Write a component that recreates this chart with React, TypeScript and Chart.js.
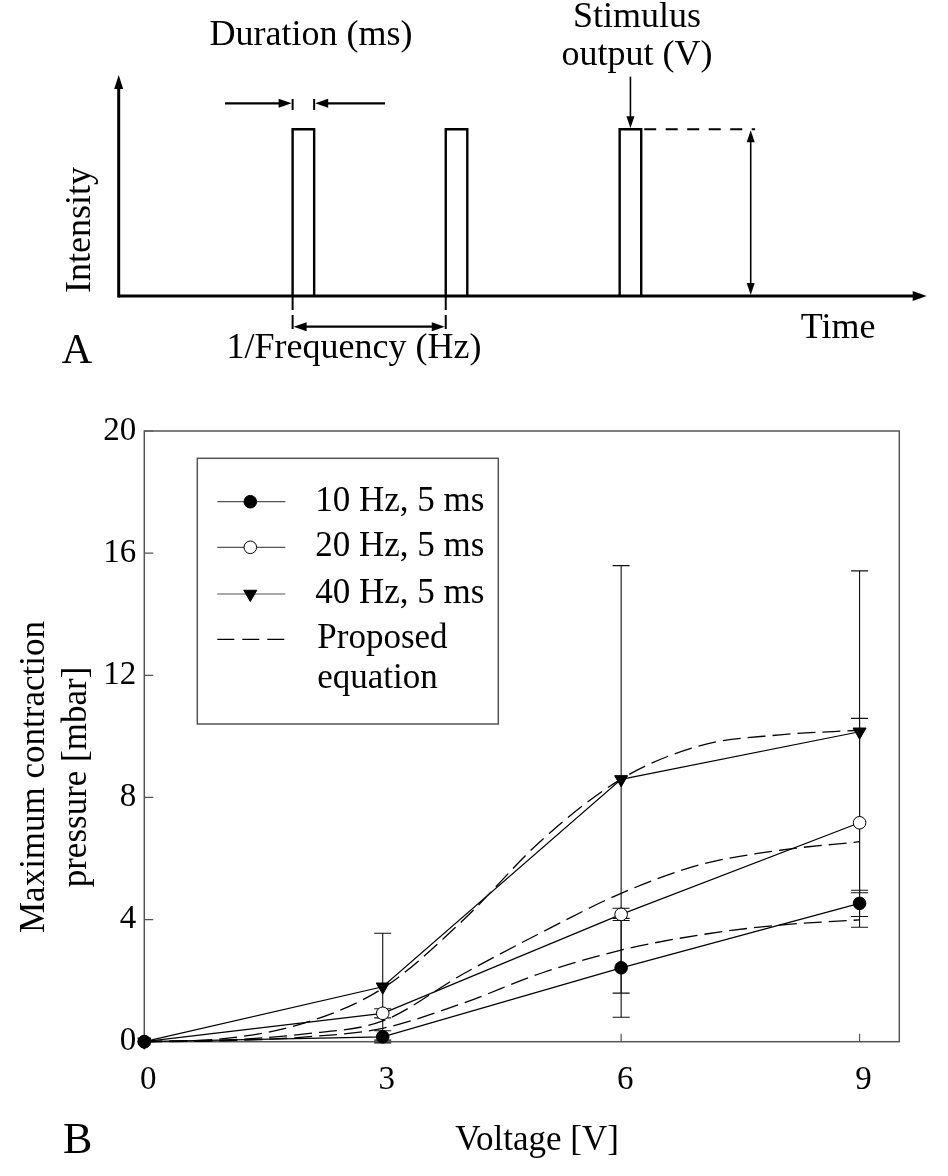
import React, { useEffect, useRef } from "react";
import { Chart, registerables } from "chart.js";

Chart.register(...registerables);

const FONT = "'Liberation Serif', 'Times New Roman', Times, serif";

// ---------- Panel A (stimulus schematic) ----------
const pulseStarts = [2.26, 4.25, 6.51];
const pulseWidth = 0.28;
const pulseIntensity = 1;
const timeAxisEnd = 10.5;
const intensityAxisEnd = 1.326;

// ---------- Panel B (pressure vs voltage) ----------
const voltages = [0, 3, 6, 9];
const pressure10Hz = [0, 0.16, 2.42, 4.53];
const pressure20Hz = [0, 0.93, 4.17, 7.17];
const pressure40Hz = [0, 1.8, 8.59, 10.15];
const error10Hz = [0, 0.2, 1.62, 0.43];
const error20Hz = [0, 0.15, 0.2, 3.42];
const error40Hz = [0, 1.75, 7.0, 5.27];

const fitVoltages = [0, 1, 2, 3, 4, 5, 6, 7, 8, 9];
const fit10Hz = [0, 0.03, 0.15, 0.44, 1.25, 2.25, 3.0, 3.5, 3.82, 3.99];
const fit20Hz = [0, 0.05, 0.25, 0.68, 2.2, 3.58, 4.86, 5.8, 6.27, 6.55];
const fit40Hz = [0, 0.1, 0.6, 1.75, 3.95, 6.6, 8.6, 9.7, 10.05, 10.2];

const xTickValues = [0, 3, 6, 9];
const yTickValues = [0, 4, 8, 12, 16, 20];
const seriesLabels = ["10 Hz, 5 ms", "20 Hz, 5 ms", "40 Hz, 5 ms"];
const fitLabelLines = ["Proposed", "equation"];
const xTitle = "Voltage [V]";
const yTitleLines = ["Maximum contraction", "pressure [mbar]"];

function arrowHead(ctx: CanvasRenderingContext2D, x: number, y: number, angle: number, len = 13, half = 4.5) {
  ctx.save();
  ctx.translate(x, y);
  ctx.rotate(angle);
  ctx.beginPath();
  ctx.moveTo(0, 0);
  ctx.lineTo(-len, -half);
  ctx.lineTo(-len, half);
  ctx.closePath();
  ctx.fill();
  ctx.restore();
}

function seg(ctx: CanvasRenderingContext2D, x1: number, y1: number, x2: number, y2: number, w: number, dash: number[] = []) {
  ctx.save();
  ctx.lineWidth = w;
  ctx.setLineDash(dash);
  ctx.beginPath();
  ctx.moveTo(x1, y1);
  ctx.lineTo(x2, y2);
  ctx.stroke();
  ctx.restore();
}

const panelAPlugin = {
  id: "panelA",
  afterDraw(chart: any) {
    const ctx: CanvasRenderingContext2D = chart.ctx;
    const X = (t: number) => chart.scales.x.getPixelForValue(t);
    const Y = (v: number) => chart.scales.y.getPixelForValue(v);
    ctx.save();
    ctx.strokeStyle = "#000";
    ctx.fillStyle = "#000";
    // axes with arrows
    seg(ctx, X(0), Y(0), X(timeAxisEnd) - 10, Y(0), 3.2);
    arrowHead(ctx, X(timeAxisEnd), Y(0), 0, 14, 5);
    seg(ctx, X(0), Y(0) + 1.5, X(0), Y(intensityAxisEnd) + 10, 3);
    arrowHead(ctx, X(0), Y(intensityAxisEnd), -Math.PI / 2, 14, 4.5);

    const s0 = pulseStarts[0];
    const s1 = pulseStarts[1];
    const s2 = pulseStarts[2];
    // duration arrows
    const yd = Y(1.156);
    seg(ctx, X(1.381), yd, X(s0) - 8, yd, 2.2);
    arrowHead(ctx, X(s0) - 1, yd, 0, 13, 4.5);
    seg(ctx, X(3.461), yd, X(s0 + pulseWidth) + 8, yd, 2.2);
    arrowHead(ctx, X(s0 + pulseWidth) + 1, yd, Math.PI, 13, 4.5);
    seg(ctx, X(s0), Y(1.182), X(s0), Y(1.116), 2);
    seg(ctx, X(s0 + pulseWidth), Y(1.182), X(s0 + pulseWidth), Y(1.116), 2);

    // period
    seg(ctx, X(s0), Y(0), X(s0), Y(-0.216), 2, [14, 5]);
    seg(ctx, X(s1), Y(0), X(s1), Y(-0.216), 2, [14, 5]);
    const yf = Y(-0.184);
    seg(ctx, X(s0) + 8, yf, X(s1) - 8, yf, 2.2);
    arrowHead(ctx, X(s0) + 1, yf, Math.PI, 13, 4.5);
    arrowHead(ctx, X(s1) - 1, yf, 0, 13, 4.5);

    // stimulus output
    const xc = X(s2 + pulseWidth / 2);
    seg(ctx, xc, Y(1.316), xc, Y(1) - 10, 1.6);
    arrowHead(ctx, xc, Y(1) - 1, Math.PI / 2, 12, 4);
    seg(ctx, X(s2 + pulseWidth) + 3, Y(1), X(8.27), Y(1), 2, [12, 9.5]);
    const xv = X(8.213);
    seg(ctx, xv, Y(1) + 9, xv, Y(0) - 9, 1.6);
    arrowHead(ctx, xv, Y(1) + 1, -Math.PI / 2, 12, 4);
    arrowHead(ctx, xv, Y(0) - 1, Math.PI / 2, 12, 4);

    // texts
    ctx.font = `36px ${FONT}`;
    ctx.textBaseline = "alphabetic";
    ctx.textAlign = "center";
    ctx.fillText("Duration (ms)", X(2.5), Y(1.506));
    ctx.fillText("Stimulus", X(6.736), Y(1.615));
    ctx.fillText("output (V)", X(6.736), Y(1.386));
    ctx.fillText("1/Frequency (Hz)", X(3.058), Y(-0.372));
    ctx.fillText("Time", X(9.348), Y(-0.252));
    ctx.save();
    ctx.translate(X(-0.372), Y(0.396));
    ctx.rotate(-Math.PI / 2);
    ctx.fillText("Intensity", 0, 0);
    ctx.restore();
    ctx.textAlign = "left";
    ctx.font = `42px ${FONT}`;
    ctx.fillText("A", X(-0.741), Y(-0.402));
    ctx.restore();
  },
};

const errorBarPlugin = {
  id: "errorBars",
  beforeDatasetsDraw(chart: any) {
    const ctx: CanvasRenderingContext2D = chart.ctx;
    const xs = chart.scales.x;
    const ys = chart.scales.y;
    ctx.save();
    ctx.strokeStyle = "#111";
    ctx.lineWidth = 1.1;
    chart.data.datasets.forEach((ds: any) => {
      if (!ds.errors) return;
      ds.data.forEach((p: any, i: number) => {
        const e = ds.errors[i];
        if (!e) return;
        const x = xs.getPixelForValue(p.x);
        const yt = ys.getPixelForValue(p.y + e);
        const yb = ys.getPixelForValue(p.y - e);
        ctx.beginPath();
        ctx.moveTo(x, yt);
        ctx.lineTo(x, yb);
        ctx.moveTo(x - 8.5, yt);
        ctx.lineTo(x + 8.5, yt);
        ctx.moveTo(x - 8.5, yb);
        ctx.lineTo(x + 8.5, yb);
        ctx.stroke();
      });
    });
    ctx.restore();
  },
};

const framePlugin = {
  id: "frame",
  beforeDatasetsDraw(chart: any) {
    const ctx: CanvasRenderingContext2D = chart.ctx;
    const { left, right, top, bottom } = chart.chartArea;
    const xs = chart.scales.x;
    const ys = chart.scales.y;
    ctx.save();
    ctx.strokeStyle = "#555";
    ctx.lineWidth = 1.5;
    ctx.strokeRect(left, top, right - left, bottom - top);
    ctx.lineWidth = 1.2;
    ctx.beginPath();
    yTickValues.forEach((v) => {
      const y = ys.getPixelForValue(v);
      ctx.moveTo(left, y);
      ctx.lineTo(left + 9, y);
    });
    xTickValues.forEach((v) => {
      const x = xs.getPixelForValue(v);
      ctx.moveTo(x, bottom);
      ctx.lineTo(x, bottom - 8);
    });
    ctx.stroke();
    ctx.restore();
  },
};

function drawMarker(ctx: CanvasRenderingContext2D, style: string, x: number, y: number, r: number, fill: string) {
  ctx.save();
  ctx.fillStyle = fill;
  ctx.strokeStyle = "#000";
  ctx.lineWidth = 1;
  ctx.beginPath();
  if (style === "triangle") {
    const h = 1.5 * r;
    const half = (Math.sqrt(3) * r) / 2;
    ctx.moveTo(x, y + r);
    ctx.lineTo(x - half, y + r - h);
    ctx.lineTo(x + half, y + r - h);
    ctx.closePath();
  } else {
    ctx.arc(x, y, r, 0, Math.PI * 2);
  }
  ctx.fill();
  ctx.stroke();
  ctx.restore();
}

const annotationPlugin = {
  id: "annotB",
  afterDraw(chart: any) {
    const ctx: CanvasRenderingContext2D = chart.ctx;
    const { left, top, bottom } = chart.chartArea;
    ctx.save();
    // legend
    const lx = left + 53;
    const ly = top + 27.3;
    ctx.fillStyle = "#fff";
    ctx.fillRect(lx, ly, 301, 265.7);
    ctx.strokeStyle = "#555";
    ctx.lineWidth = 1.5;
    ctx.strokeRect(lx, ly, 301, 265.7);
    const rowY = [43.4, 89, 135.7, 181];
    const markerDs = chart.data.datasets.filter((d: any) => d.errors);
    ctx.font = `35px ${FONT}`;
    ctx.textAlign = "left";
    ctx.textBaseline = "middle";
    markerDs.forEach((d: any, i: number) => {
      const y = ly + rowY[i];
      seg(ctx, lx + 20, y, lx + 88, y, 1.2);
      drawMarker(ctx, d.pointStyle === "triangle" ? "triangle" : "circle", lx + 53, y, d.pointStyle === "triangle" ? 7.5 : 6.3, d.pointBackgroundColor);
      ctx.fillStyle = "#000";
      ctx.fillText(d.label, lx + 118, y);
    });
    ctx.strokeStyle = "#000";
    seg(ctx, lx + 20, ly + rowY[3], lx + 88, ly + rowY[3], 1.2, [17, 8]);
    ctx.fillStyle = "#000";
    ctx.fillText(fitLabelLines[0], lx + 120, ly + rowY[3]);
    ctx.fillText(fitLabelLines[1], lx + 120, ly + rowY[3] + 40);

    // axis titles
    ctx.textAlign = "center";
    ctx.textBaseline = "alphabetic";
    ctx.fillText(xTitle, 537, bottom + 108.3);
    ctx.save();
    ctx.translate(35, top + 346);
    ctx.rotate(-Math.PI / 2);
    ctx.textBaseline = "middle";
    ctx.fillText(yTitleLines[0], 0, 0);
    ctx.fillText(yTitleLines[1], 0, 42);
    ctx.restore();
    ctx.textAlign = "left";
    ctx.font = `44px ${FONT}`;
    ctx.fillText("B", 63, bottom + 111);
    ctx.restore();
  },
};

export default function App() {
  const refA = useRef<HTMLCanvasElement>(null);
  const refB = useRef<HTMLCanvasElement>(null);

  useEffect(() => {
    const pulseData: any[] = [];
    pulseStarts.forEach((s) => {
      pulseData.push(
        { x: s, y: 0 },
        { x: s, y: pulseIntensity },
        { x: s + pulseWidth, y: pulseIntensity },
        { x: s + pulseWidth, y: 0 },
        { x: s + pulseWidth + 0.01, y: null }
      );
    });

    const chartA = new Chart(refA.current as HTMLCanvasElement, {
      type: "line",
      data: {
        datasets: [
          {
            data: pulseData,
            borderColor: "#000",
            borderWidth: 2.4,
            pointRadius: 0,
            tension: 0,
            spanGaps: false,
            clip: false as any,
            borderJoinStyle: "miter",
          },
        ],
      },
      options: {
        responsive: false,
        animation: false,
        events: [],
        layout: { padding: { left: 118.7, right: 21.3, top: 79.3, bottom: 84 } },
        scales: {
          x: { type: "linear", min: 0, max: timeAxisEnd, display: false },
          y: { type: "linear", min: 0, max: 1.3, display: false },
        },
        plugins: { legend: { display: false }, tooltip: { enabled: false } },
      },
      plugins: [panelAPlugin],
    } as any);

    const pts = (xs: number[], ys: number[]) => xs.map((x, i) => ({ x, y: ys[i] }));
    const tickFont = { family: FONT, size: 33 };
    const series = (label: string, ys: number[], errs: number[], style: string, fill: string, r: number) => ({
      label,
      data: pts(voltages, ys),
      errors: errs,
      borderColor: "#000",
      borderWidth: 1.2,
      pointStyle: style,
      pointRotation: style === "triangle" ? 180 : 0,
      pointRadius: r,
      pointBackgroundColor: fill,
      pointBorderColor: "#000",
      pointBorderWidth: 1,
      tension: 0,
      clip: false,
    });
    const fit = (ys: number[]) => ({
      label: "fit",
      data: pts(fitVoltages, ys),
      borderColor: "#000",
      borderWidth: 1.3,
      borderDash: [18, 7],
      pointRadius: 0,
      cubicInterpolationMode: "monotone",
      clip: false,
    });

    const chartB = new Chart(refB.current as HTMLCanvasElement, {
      type: "line",
      data: {
        datasets: [
          series(seriesLabels[0], pressure10Hz, error10Hz, "circle", "#000", 6.3),
          series(seriesLabels[1], pressure20Hz, error20Hz, "circle", "#fff", 6.3),
          series(seriesLabels[2], pressure40Hz, error40Hz, "triangle", "#000", 7.5),
          fit(fit10Hz),
          fit(fit20Hz),
          fit(fit40Hz),
        ],
      },
      options: {
        responsive: false,
        animation: false,
        events: [],
        layout: { padding: { left: 0, right: 48.7, top: 51, bottom: 0 } },
        scales: {
          x: {
            type: "linear",
            min: 0,
            max: 9.5,
            afterBuildTicks: (s: any) => {
              s.ticks = xTickValues.map((v) => ({ value: v }));
            },
            afterFit: (s: any) => {
              s.height = 134.3;
            },
            ticks: { font: tickFont, color: "#000", padding: 19, labelOffset: 4, maxRotation: 0, autoSkip: false },
            grid: { display: false, drawTicks: false },
            border: { display: false },
          },
          y: {
            type: "linear",
            min: 0,
            max: 20,
            afterBuildTicks: (s: any) => {
              s.ticks = yTickValues.map((v) => ({ value: v }));
            },
            afterFit: (s: any) => {
              s.width = 144.3;
            },
            ticks: { font: tickFont, color: "#000", padding: 8, autoSkip: false },
            grid: { display: false, drawTicks: false },
            border: { display: false },
          },
        },
        plugins: { legend: { display: false }, tooltip: { enabled: false } },
      },
      plugins: [framePlugin, errorBarPlugin, annotationPlugin],
    } as any);

    return () => {
      chartA.destroy();
      chartB.destroy();
    };
  }, []);

  return (
    <div style={{ position: "absolute", left: 0, top: 0, width: 948, height: 1176, background: "#fff" }}>
      <canvas ref={refA} width={948} height={380} style={{ position: "absolute", left: 0, top: 0, display: "block" }} />
      <canvas ref={refB} width={948} height={796} style={{ position: "absolute", left: 0, top: 380, display: "block" }} />
    </div>
  );
}
